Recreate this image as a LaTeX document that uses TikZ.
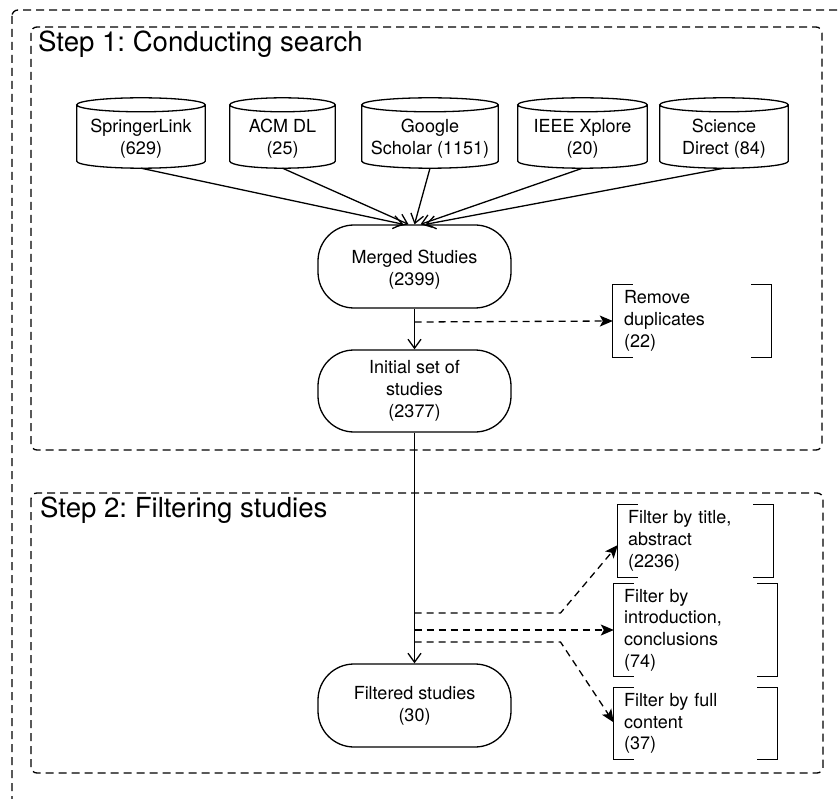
\documentclass[tikz,border=0pt]{standalone}
\usepackage{fontspec}
\setmainfont{TeX Gyre Heros}
\usetikzlibrary{arrows.meta,calc}
\frenchspacing
\newcommand\cylshape[1]{%
  \draw[line width=1.3pt] let \p1=(#1.north west), \p2=(#1.south east), \n1={(\x2-\x1)/2} in
    (\x1,\y1+5pt) -- (\x1,\y2+7pt) arc[start angle=180,end angle=360,x radius=\n1,y radius=7pt]
    -- (\x2,\y1+5pt) arc[start angle=0,end angle=360,x radius=\n1,y radius=7pt];}
\newcommand\brkshape[1]{%
  \draw[line width=1.3pt] ([xshift=20pt]#1.north west) -- (#1.north west) -- (#1.south west) -- ([xshift=20pt]#1.south west);
  \draw[line width=1.3pt] ([xshift=-20pt]#1.north east) -- (#1.north east) -- (#1.south east) -- ([xshift=-20pt]#1.south east);}
\begin{document}
\begin{tikzpicture}[x=1pt,y=1pt,
  txt/.style={font=\fontsize{18}{21.7}\selectfont},
  stepbox/.style={draw=black, line width=1.3pt, dash pattern=on 8pt off 5pt, rounded corners=6pt},
  steptitle/.style={anchor=base west, inner sep=0pt, font=\fontsize{27.6}{33}\selectfont},
  cyl/.style={txt, inner sep=0pt, minimum height=58pt, align=center},
  proc/.style={txt, draw, line width=1.3pt, rounded corners=36pt, minimum width=193pt, minimum height=83pt, inner sep=0pt, align=center},
  brk/.style={txt, inner ysep=0pt, align=left},
  arr/.style={line width=1.3pt, -{Straight Barb[length=9pt,width=13pt]}},
  darr/.style={line width=1.3pt, dash pattern=on 7pt off 5pt, -{Stealth[length=13pt,width=11pt,inset=3pt]}}
]
\useasboundingbox (0,0) rectangle (840,-799);
\clip (0,0) rectangle (840,-799);

% frames
\draw[stepbox] (12,-10) rectangle (843,-840);
\draw[stepbox] (31,-27) rectangle (822,-450);
\draw[stepbox] (31,-493) rectangle (823,-773);
\node[steptitle] (t1) at (38,-52) {Step 1: Conducting search};
\node[steptitle] (t2) at (40,-517) {Step 2: Filtering studies};

% databases
\node[cyl, minimum width=128pt] (sl) at (141,-139) {SpringerLink\\(629)};
\node[cyl, minimum width=105pt] (acm) at (282.5,-139) {ACM DL\\(25)};
\node[cyl, minimum width=136pt] (gs) at (430,-139) {Google\\Scholar (1151)};
\node[cyl, minimum width=129pt] (ieee) at (582.5,-139) {IEEE Xplore\\(20)};
\node[cyl, minimum width=128pt] (sd) at (724,-139) {Science\\Direct (84)};
\cylshape{sl}\cylshape{acm}\cylshape{gs}\cylshape{ieee}\cylshape{sd}

% process nodes
\node[proc] (mg) at (414.5,-266.5) {\\[-2pt]Merged Studies\\(2399)};
\node[proc, minimum height=82pt] (init) at (414.5,-391) {Initial set of\\studies\\(2377)};
\node[proc] (flt) at (414.5,-705.5) {Filtered studies\\(30)};

% brackets
\node[brk, inner xsep=11pt, text width=136pt, minimum height=72pt] (rm) at (692,-321) {Remove\\duplicates\\(22)};
\node[brk, inner xsep=10pt, text width=135pt, minimum height=72pt] (ft) at (695.5,-541) {Filter by title,\\abstract\\(2236)};
\node[brk, inner xsep=10pt, text width=143pt, minimum height=92pt] (fi) at (695.5,-630) {Filter by\\introduction,\\conclusions\\(74)};
\node[brk, inner xsep=10pt, text width=143pt, minimum height=71pt] (ff) at (695.5,-723.5) {Filter by full\\content\\(37)};
\brkshape{rm}\brkshape{ft}\brkshape{fi}\brkshape{ff}

% connectors
\draw[arr] (sl.south) -- ([xshift=-11pt]mg.north);
\draw[arr] (acm.south) -- ([xshift=-6pt]mg.north);
\draw[arr] (gs.south) -- ([xshift=0pt]mg.north);
\draw[arr] (ieee.south) -- ([xshift=6pt]mg.north);
\draw[arr] (sd.south) -- ([xshift=11pt]mg.north);
\draw[arr] (mg.south) -- (init.north);
\draw[arr] (init.south) -- (flt.north);

\coordinate (b0) at (414.5,-322);
\coordinate (b1) at (414.5,-613);
\coordinate (b2) at (414.5,-630);
\coordinate (b3) at (414.5,-642);
\draw[darr] (b0) -- (rm.west);
\draw[darr] (b1) -- ++(146,0) -- ([yshift=-4pt]ft.west);
\draw[darr] (b2) -- (fi.west);
\draw[darr] (b3) -- ++(146,0) -- ([yshift=1pt]ff.west);
\end{tikzpicture}
\end{document}
